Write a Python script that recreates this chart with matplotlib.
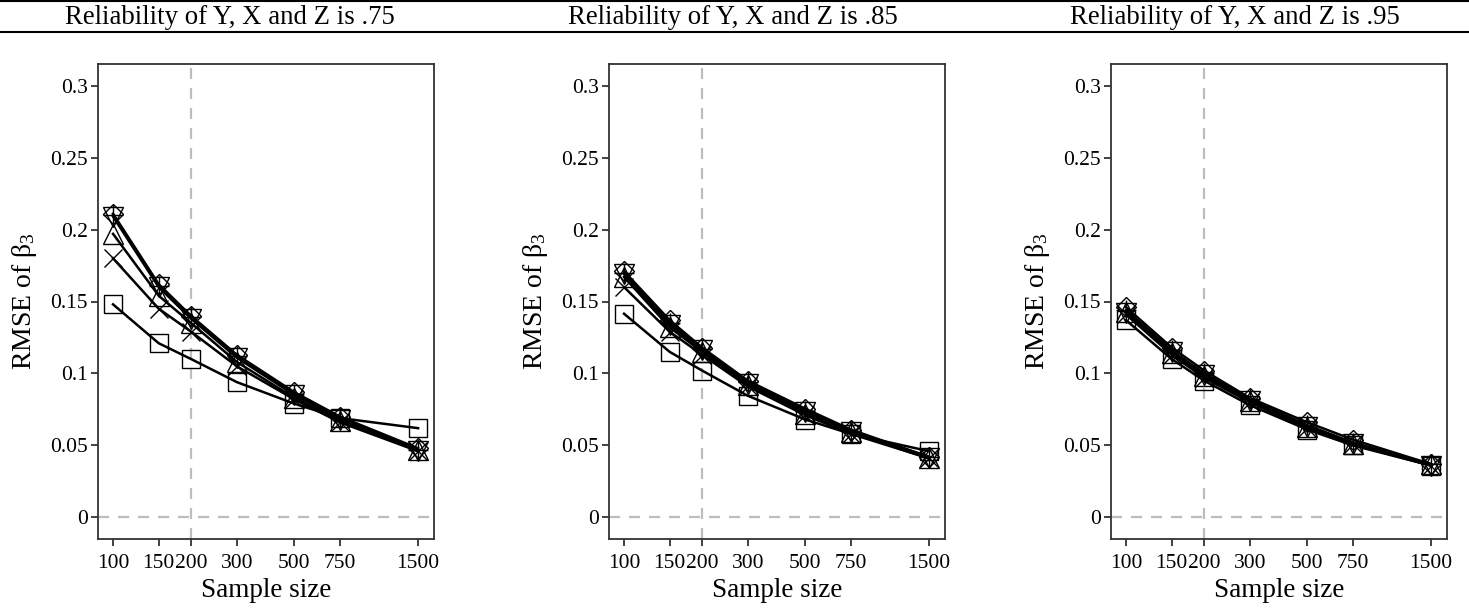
import matplotlib
matplotlib.use("Agg")
import matplotlib.pyplot as plt
from matplotlib.lines import Line2D

#==============================================================================
# data
#==============================================================================
sample_size = [100, 150, 200, 300, 500, 750, 1500]
reliability = [".75", ".85", ".95"]

# rel .75
sq_75 = [0.148, 0.121, 0.110, 0.094, 0.079, 0.069, 0.062]
x_75 = [0.180, 0.145, 0.129, 0.105, 0.082, 0.066, 0.046]
tu_75 = [0.197, 0.154, 0.135, 0.108, 0.083, 0.067, 0.047]
pl_75 = [0.210, 0.161, 0.139, 0.112, 0.086, 0.069, 0.047]
di_75 = [0.211, 0.162, 0.140, 0.113, 0.087, 0.070, 0.048]
td_75 = [0.209, 0.160, 0.138, 0.111, 0.085, 0.068, 0.046]
# rel .85
sq_85 = [0.1415, 0.115, 0.102, 0.0845, 0.068, 0.058, 0.046]
x_85 = [0.160, 0.129, 0.113, 0.091, 0.071, 0.058, 0.041]
tu_85 = [0.167, 0.132, 0.115, 0.092, 0.072, 0.059, 0.041]
pl_85 = [0.170, 0.135, 0.117, 0.094, 0.074, 0.060, 0.042]
di_85 = [0.171, 0.137, 0.118, 0.095, 0.0755, 0.061, 0.042]
td_85 = [0.169, 0.134, 0.116, 0.093, 0.073, 0.059, 0.041]
# rel .95
sq_95 = [0.137, 0.110, 0.095, 0.078, 0.061, 0.050, 0.036]
x_95 = [0.141, 0.113, 0.097, 0.080, 0.062, 0.051, 0.036]
tu_95 = [0.143, 0.114, 0.098, 0.081, 0.063, 0.051, 0.037]
pl_95 = [0.144, 0.116, 0.100, 0.082, 0.064, 0.052, 0.037]
di_95 = [0.146, 0.118, 0.102, 0.083, 0.066, 0.054, 0.037]
td_95 = [0.142, 0.115, 0.099, 0.081, 0.063, 0.051, 0.036]

panels = [
    [sq_75, x_75, tu_75, td_75, pl_75, di_75],
    [sq_85, x_85, tu_85, td_85, pl_85, di_85],
    [sq_95, x_95, tu_95, td_95, pl_95, di_95],
]
markers = ["s", "x", "^", "v", "+", "D"]
msizes = [13.5, 13, 15, 15, 15, 10.5]

y_ticks = [0, 0.05, 0.1, 0.15, 0.2, 0.25, 0.3]
y_ticklabels = ["0", "0.05", "0.1", "0.15", "0.2", "0.25", "0.3"]

#==============================================================================
# style
#==============================================================================
plt.rcParams["font.family"] = ["Liberation Serif", "DejaVu Serif"]
plt.rcParams["mathtext.fontset"] = "custom"
plt.rcParams["mathtext.rm"] = "Liberation Serif"
plt.rcParams["mathtext.default"] = "regular"

W, H = 1469, 608
fig = plt.figure(figsize=(W / 100, H / 100), dpi=100)

ax_left = [98, 609, 1111]
ax_w = 336
ax_top, ax_bot = 64, 539
title_x = [230, 733, 1235]

for i in range(3):
    ax = fig.add_axes([ax_left[i] / W, 1 - ax_bot / H, ax_w / W, (ax_bot - ax_top) / H])
    ax.axvline(200, color="#bdbdbd", lw=1.6, ls=(0, (5, 4)), zorder=1)
    ax.axhline(0, color="#bdbdbd", lw=1.6, ls=(0, (5, 4)), zorder=1)
    for vals, m, ms in zip(panels[i], markers, msizes):
        ax.plot(sample_size, vals, color="black", lw=1.8, zorder=3)
        ax.plot(sample_size, vals, ls="none", marker=m, ms=ms, mfc="none",
                mec="black", mew=1.0, zorder=4)
    ax.set_xscale("log")
    ax.set_xlim(87.5, 1727)
    ax.set_ylim(-0.015, 0.315)
    ax.set_xticks(sample_size)
    ax.set_xticklabels([str(s) for s in sample_size])
    ax.minorticks_off()
    ax.set_yticks(y_ticks)
    ax.set_yticklabels(y_ticklabels)
    ax.tick_params(labelsize=15.5, length=5, width=1.3, color="#333333",
                   labelcolor="black")
    ax.tick_params(axis="x", pad=5.5)
    ax.tick_params(axis="y", pad=2.5)
    for sp in ax.spines.values():
        sp.set_color("#333333")
        sp.set_linewidth(1.3)
    ax.set_xlabel("Sample size", fontsize=19.5, labelpad=4)
    ax.set_ylabel("RMSE of β$_3$", fontsize=20, labelpad=8)
    fig.text(title_x[i] / W, 1 - 17 / H, "Reliability of Y, X and Z is " + reliability[i],
             ha="center", va="center", fontsize=19.3)

# header rules
fig.add_artist(Line2D([0, 1], [1 - 1 / H, 1 - 1 / H], color="black", lw=1.5))
fig.add_artist(Line2D([0, 1], [1 - 32 / H, 1 - 32 / H], color="black", lw=1.5))

plt.savefig("out.png", dpi=100)
